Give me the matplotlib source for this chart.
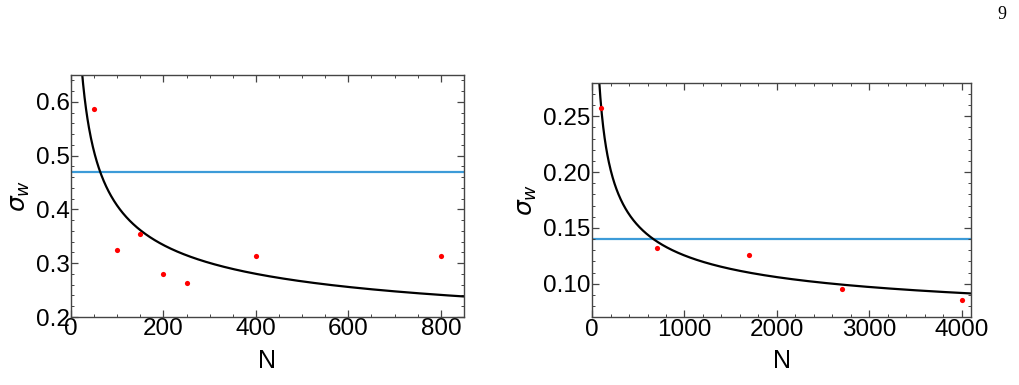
import numpy as np
import matplotlib.pyplot as plt
from matplotlib.ticker import MultipleLocator

# left panel
n_left = [50, 100, 150, 200, 250, 400, 800]
sw_left = [0.586, 0.324, 0.354, 0.280, 0.264, 0.314, 0.314]
level_left = 0.47
fit_left = (0.134, 2.168, 0.45)  # a + b / N**p

# right panel
n_right = [100, 700, 1700, 2700, 4000]
sw_right = [0.257, 0.132, 0.126, 0.0955, 0.0854]
level_right = 0.14
fit_right = (0.053, 1.62, 0.45)

plt.rcParams["font.family"] = ["Liberation Sans", "DejaVu Sans"]
plt.rcParams["mathtext.fontset"] = "dejavusans"

FRAME = "#444444"
BLUE = "#3c9bd8"


def style_axes(ax, xmaj, xmin, ymaj, ymin):
    for sp in ax.spines.values():
        sp.set_color(FRAME)
        sp.set_linewidth(1.0)
    ax.xaxis.set_major_locator(MultipleLocator(xmaj))
    ax.xaxis.set_minor_locator(MultipleLocator(xmin))
    ax.yaxis.set_major_locator(MultipleLocator(ymaj))
    ax.yaxis.set_minor_locator(MultipleLocator(ymin))
    ax.tick_params(which="both", direction="in", top=True, right=True,
                   color=FRAME, labelsize=17.5, pad=1)
    ax.tick_params(which="major", length=5, width=0.9)
    ax.tick_params(which="minor", length=2.5, width=0.7)
    ax.set_xlabel("N", fontsize=18, labelpad=6)
    ax.set_ylabel(r"$\sigma_w$", fontsize=18, labelpad=3)


def draw_panel(ax, n, sw, level, fit, xlim, ylim):
    a, b, p = fit
    xs = np.linspace(xlim[1] * 0.002, xlim[1], 800)
    ax.plot(xs, a + b / xs ** p, color="black", lw=1.6, zorder=2)
    ax.axhline(level, color=BLUE, lw=1.6, zorder=1)
    ax.scatter(n, sw, s=14, color="red", zorder=3, linewidths=0)
    ax.set_xlim(*xlim)
    ax.set_ylim(*ylim)


fig = plt.figure(figsize=(10.19, 3.85), dpi=100)

ax1 = fig.add_axes([0.0697, 0.1766, 0.3856, 0.6286])
draw_panel(ax1, n_left, sw_left, level_left, fit_left, (0, 850), (0.2, 0.65))
style_axes(ax1, 200, 50, 0.1, 0.02)
ax1.yaxis.set_major_formatter(lambda v, pos: f"{v:.1f}")

ax2 = fig.add_axes([0.581, 0.1758, 0.372, 0.6094])
draw_panel(ax2, n_right, sw_right, level_right, fit_right, (0, 4100), (0.07, 0.28))
style_axes(ax2, 1000, 200, 0.05, 0.01)
ax2.yaxis.set_major_formatter(lambda v, pos: f"{v:.2f}")

fig.text(0.9875, 0.962, "9", fontsize=13, family="Liberation Serif",
         ha="right", va="center")

fig.savefig("out.png", dpi=100)
